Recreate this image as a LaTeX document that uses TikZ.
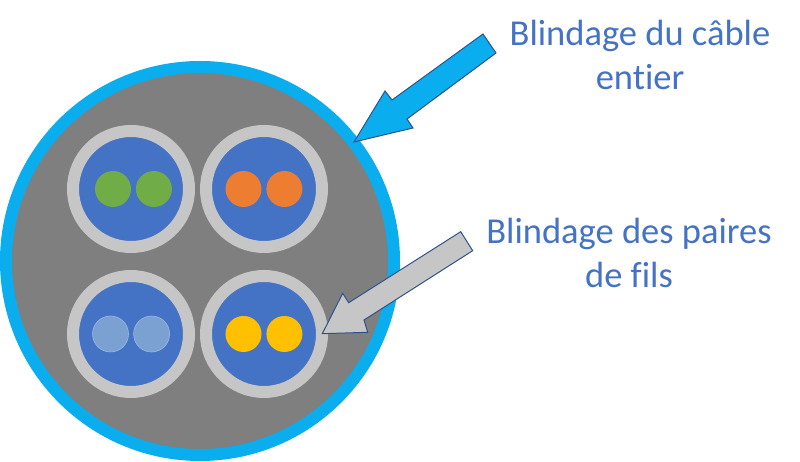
\documentclass[tikz,border=0pt]{standalone}
\usepackage{fontspec}
\setmainfont[Ligatures=CommonOff]{Carlito}
\usetikzlibrary{positioning}
\definecolor{skyblue}{HTML}{0AADEE}
\definecolor{jacketgray}{HTML}{7F7F7F}
\definecolor{shieldgray}{HTML}{C6C6C6}
\definecolor{pairblue}{HTML}{4472C4}
\definecolor{arrowblue}{HTML}{2F528F}
\definecolor{wiregreen}{HTML}{70AD47}
\definecolor{wireorange}{HTML}{ED7D31}
\definecolor{wireyellow}{HTML}{FFC000}
\definecolor{wirelight}{HTML}{7BA0D2}
\definecolor{wirerim}{HTML}{9DB9E0}
\tikzset{
	jacket/.style={circle,inner sep=0,minimum size=388pt,fill=jacketgray,draw=skyblue,line width=12pt},
	pair/.style={circle,inner sep=0,minimum size=116pt,fill=pairblue,draw=shieldgray,line width=12pt},
	wire/.style={circle,inner sep=0,minimum size=36pt},
	callout/.style={draw=arrowblue,line width=1pt,line join=miter},
	caption/.style={text=pairblue,font=\fontsize{36.5pt}{44pt}\selectfont,align=center}
}
\begin{document}
\begin{tikzpicture}[x=1pt,y=1pt]
		\useasboundingbox (0,0) rectangle (800,462);
		
		\node[jacket]	(cable)		at (200,201)	{};
		
		\node[pair]		(pair tl)	at (131,273)	{};
		\node[pair]		(pair tr)	at (264,273)	{};
		\node[pair]		(pair bl)	at (131,128)	{};
		\node[pair]		(pair br)	at (264,128)	{};
		
		\node[wire,fill=wiregreen]	(green a)	at ([xshift=-18pt]pair tl.center)	{};
		\node[wire,fill=wiregreen]	(green b)	[right=4.5pt of green a]	{};
		\node[wire,fill=wireorange]	(orange a)	at ([xshift=-20.5pt]pair tr.center)	{};
		\node[wire,fill=wireorange]	(orange b)	[right=4.5pt of orange a]	{};
		\node[wire,fill=wirelight,draw=wirerim,line width=.6pt]	(light a)	at ([xshift=-20.5pt]pair bl.center)	{};
		\node[wire,fill=wirelight,draw=wirerim,line width=.6pt]	(light b)	[right=4.5pt of light a]	{};
		\node[wire,fill=wireyellow]	(yellow a)	at ([xshift=-20.5pt]pair br.center)	{};
		\node[wire,fill=wireyellow]	(yellow b)	[right=4.5pt of yellow a]	{};
		
		% the two pointers
		\draw[callout,fill=skyblue] (354,320) -- (385,371) -- (392,362) -- (483,428) -- (496,409) -- (407,343) -- (413,334) -- cycle;
		\draw[callout,fill=shieldgray] (322.3,128.3) -- (342.7,168.7) -- (348.7,159.3) -- (460.7,230.3) -- (472.7,211.3) -- (364,142) -- (367.7,129.7) -- cycle;
		
		\node[caption]	(cable label)	at (640,407)	{Blindage du câble\\entier};
		\node[caption]	(pair label)	at (629,209)	{Blindage des paires\\de fils};
		
		\end{tikzpicture}
\end{document}
